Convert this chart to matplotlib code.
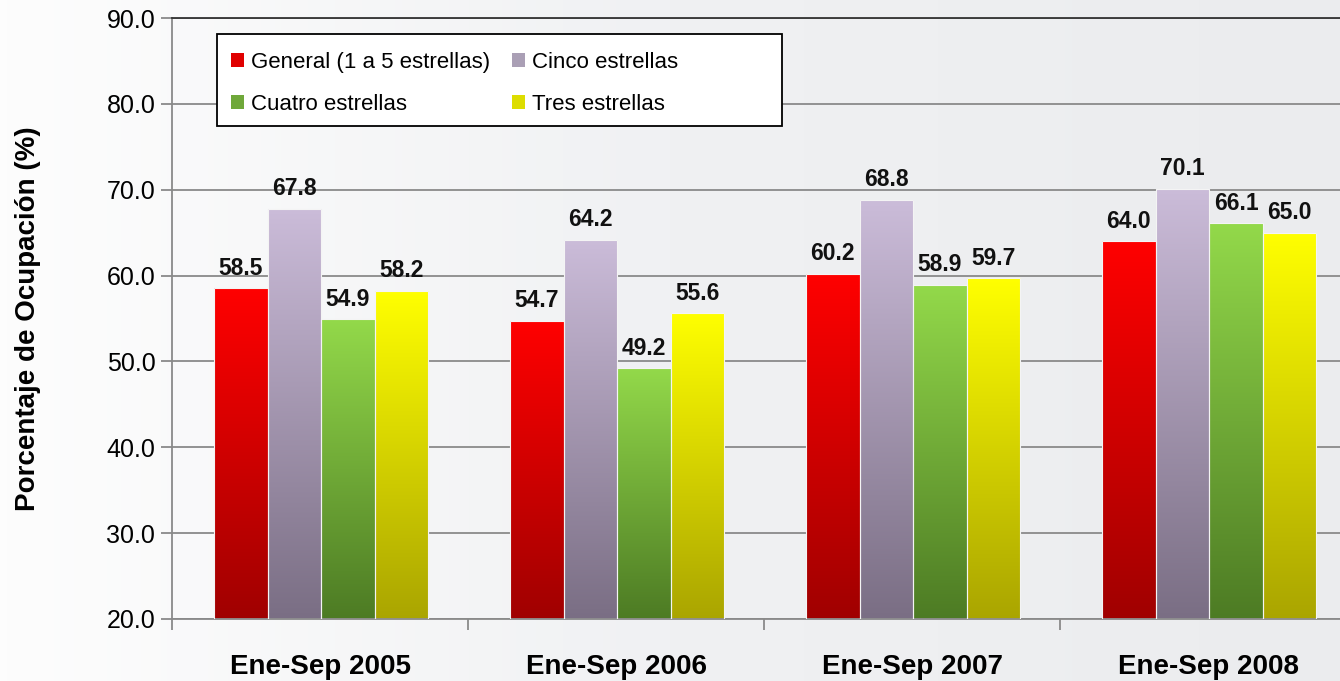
import matplotlib
matplotlib.use('Agg')
import matplotlib.pyplot as plt
import numpy as np
from matplotlib.colors import LinearSegmentedColormap
from matplotlib.patches import Patch, Rectangle

plt.rcParams['font.family'] = ['Liberation Sans', 'DejaVu Sans']

# Data
periods = ['Ene-Sep 2005', 'Ene-Sep 2006', 'Ene-Sep 2007', 'Ene-Sep 2008']
general = [58.5, 54.7, 60.2, 64.0]
cinco = [67.8, 64.2, 68.8, 70.1]
cuatro = [54.9, 49.2, 58.9, 66.1]
tres = [58.2, 55.6, 59.7, 65.0]
series_names = ['General (1 a 5 estrellas)', 'Cinco estrellas', 'Cuatro estrellas', 'Tres estrellas']

# top colour, bottom colour for each series
grads = [('#ff0000', '#a00000'),
         ('#cbbcd9', '#7a6e84'),
         ('#93d94a', '#4d7b24'),
         ('#ffff00', '#aaa500')]
legend_cols = ['#e00000', '#aa9fb5', '#6fa83a', '#dddd00']

fig = plt.figure(figsize=(13.4, 6.81), dpi=100)

# soft background
bg = fig.add_axes([0, 0, 1, 1], zorder=-10)
xx = np.linspace(0, 1, 200)
bg.imshow(np.tile(xx, (2, 1)), aspect='auto', extent=[0, 1, 0, 1],
          cmap=LinearSegmentedColormap.from_list('bg', ['#fdfdfd', '#f0f1f3', '#ebecee']))
bg.set_axis_off()

ax = fig.add_axes([172/1340, 62/681, 1184/1340, 601/681])
ax.patch.set_alpha(0)

x = np.arange(len(periods)) + 0.5
w = 0.181
offsets = [-1.5, -0.5, 0.5, 1.5]
grad = np.linspace(1, 0, 256).reshape(-1, 1)

for i, vals in enumerate([general, cinco, cuatro, tres]):
    cmap = LinearSegmentedColormap.from_list('c%d' % i, [grads[i][1], grads[i][0]])
    bars = ax.bar(x + offsets[i] * w + 0.004, np.array(vals) - 20, w, bottom=20,
                  color='none', edgecolor='#f4f4f4', linewidth=0.8, zorder=3)
    for b, v in zip(bars, vals):
        x0 = b.get_x()
        im = ax.imshow(grad, aspect='auto', cmap=cmap, vmin=0, vmax=1,
                       extent=[x0, x0 + w, 20, v], zorder=2)
        im.set_clip_path(b)
        ax.text(x0 + w / 2, v + 1.0, '%.1f' % v, ha='center', va='bottom',
                fontsize=16.5, fontweight='bold', color='#111111', zorder=4)

ax.set_xlim(0, 4)
ax.set_ylim(20, 90)

ax.set_yticks(np.arange(20, 91, 10))
ax.set_yticklabels(['%.1f' % t for t in np.arange(20, 91, 10)], fontsize=18)
ax.yaxis.grid(True, color='#8a8a8a', linewidth=1.3, zorder=0)
ax.set_axisbelow(True)
ax.tick_params(axis='y', length=8, width=1.3, color='#8a8a8a', pad=4)

ax.set_xticks(np.arange(0, 5))
ax.set_xticklabels([])
ax.tick_params(axis='x', length=8, width=1.3, color='#8a8a8a')
for xi, p in zip(x, periods):
    ax.text(xi, 20 - 5.6, p, ha='center', va='center', fontsize=20, fontweight='bold')

for s in ['left', 'bottom']:
    ax.spines[s].set_color('#8a8a8a')
    ax.spines[s].set_linewidth(1.3)
ax.spines['top'].set_color('#333333')
ax.spines['top'].set_linewidth(1.3)
ax.spines['right'].set_visible(False)

ax.set_ylabel('Porcentaje de Ocupación (%)', fontsize=20, fontweight='bold', labelpad=47)

# legend frame drawn separately so it can be wider than the entries
frame = Rectangle((45/1184, 1 - 108/601), 565/1184, 92/601, transform=ax.transAxes,
                  facecolor='white', edgecolor='black', linewidth=1.3, zorder=5)
ax.add_patch(frame)

# reorder so entries fill row by row
order = [0, 2, 1, 3]
handles = [Patch(facecolor=legend_cols[k], edgecolor='none') for k in order]
labels = [series_names[k] for k in order]
leg = ax.legend(handles, labels, ncol=2, loc='upper left',
                bbox_to_anchor=(43/1184, 1 - 18/601), fontsize=16, frameon=False,
                handlelength=0.6, handleheight=0.6, handletextpad=0.3,
                columnspacing=1.0, labelspacing=0.95, borderpad=0.2)
leg.set_zorder(6)

fig.savefig('out.png', dpi=100)
